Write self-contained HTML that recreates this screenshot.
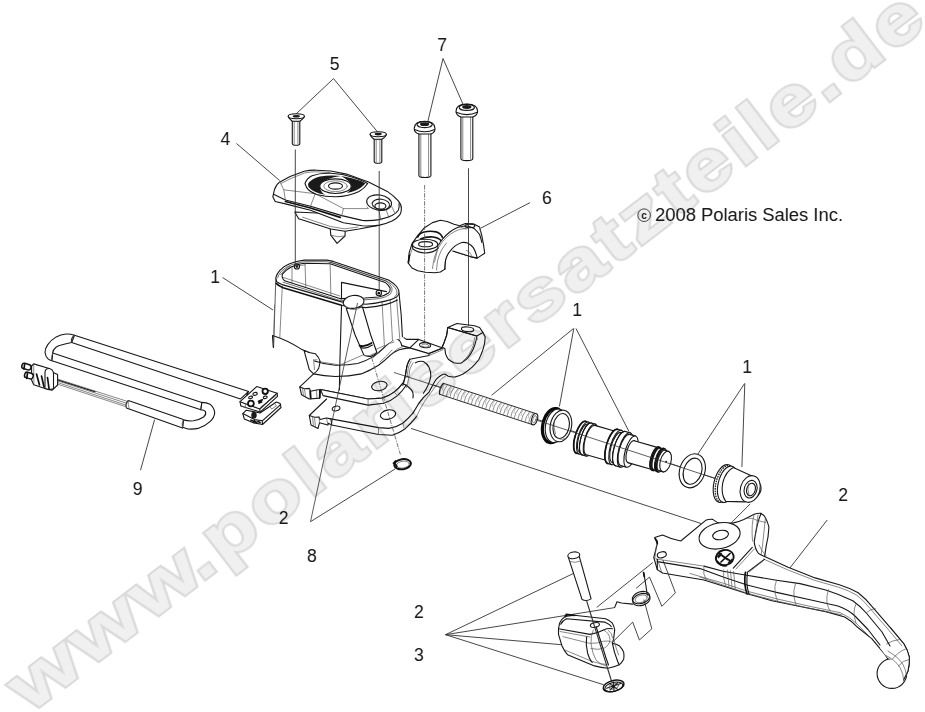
<!DOCTYPE html>
<html><head><meta charset="utf-8">
<style>
html,body{margin:0;padding:0;background:#fff;}
body{width:925px;height:712px;overflow:hidden;font-family:"Liberation Sans",sans-serif;}
svg{display:block;position:absolute;left:0;top:0;filter:grayscale(1);}
.wm{font-family:"Liberation Sans",sans-serif;font-weight:bold;font-size:92.6px;fill:#f0f0f0;stroke:#dadada;stroke-width:3.6;stroke-linejoin:miter;paint-order:stroke fill;vector-effect:non-scaling-stroke;}
.lb{font-family:"Liberation Sans",sans-serif;font-size:17.5px;fill:#1a1a1a;text-anchor:middle;}
.ld{stroke:#333;stroke-width:0.9;fill:none;}
.p{stroke:#161616;stroke-width:1.1;fill:#fff;stroke-linejoin:round;stroke-linecap:round;}
.n{stroke:#161616;stroke-width:1.1;fill:none;stroke-linejoin:round;stroke-linecap:round;}
.t{stroke:#555;stroke-width:0.7;fill:none;stroke-linejoin:round;stroke-linecap:round;}
.tf{stroke:#555;stroke-width:0.7;fill:#fff;stroke-linejoin:round;stroke-linecap:round;}
.k{stroke:#111;stroke-width:1.7;fill:none;stroke-linejoin:round;stroke-linecap:round;}
.b{fill:#1a1a1a;stroke:none;}
.dd{stroke:#555;stroke-width:0.8;fill:none;stroke-dasharray:4.5 1.2 1.2 1.2;}
</style></head>
<body>
<svg width="925" height="712" viewBox="0 0 925 712">
<rect width="925" height="712" fill="#fff"/>
<!-- leaders -->
<g id="leaders" class="ld">
<path d="M333.5,78.6 L295.8,114.2 M333.5,78.6 L377.7,132.1"/>
<path d="M443,58.5 L427.8,121.6 M443,58.5 L463.5,105.4"/>
<path d="M236.5,143.5 L279.7,180.6"/>
<path d="M530.1,202.6 L480.8,228.1"/>
<path d="M140.5,470.2 L154.6,419.6"/>
<path d="M310.5,521.7 L395,469"/>
<path d="M445.5,634.7 L574,573.2 M445.5,634.7 L614.7,607.6 M445.5,634.7 L561.4,644.7 M445.5,634.7 L603.8,684.8"/>
<path d="M827.2,520 L789.5,568.5"/>
<path d="M222.5,277.5 L273,310"/>
<path d="M573.5,328.5 L491.6,395.3 M573.8,328.5 L559.4,406.5 M576,328.5 L629,431.5"/>
<path d="M744.6,383.5 L697.9,454 M744.8,383.5 L741.9,467"/>
<path d="M394,372 L717,479"/>
<path d="M411,428.4 L701,523.5"/>
<path d="M750.2,503.9 L731.2,522.9"/>
</g>
<!-- harness -->
<g id="harness">
<!-- upper run -->
<path class="p" d="M74.5,335.2 L248.7,391.4 L240.5,398.9 L71.7,342.5 Z"/>
<!-- left U bend -->
<path class="p" d="M74.5,335.2 Q70.5,333.8 66,334 Q60.5,334.6 56.2,336.9 Q51,340 47.8,344.6 Q45,348.5 45,352.3 Q45.3,356 47.8,358.7 Q49.5,360.3 52,360.8 L52.7,353 Q53,349.5 56,347.2 Q58,345.8 60.4,345.3 Q66,343.5 71.7,342.5 Q70.5,338.5 74.5,335.2 Z"/>
<path class="t" d="M74.5,335.2 Q70.8,338.5 71.7,342.5"/>
<!-- middle run -->
<path class="p" d="M52.7,353 L201.8,402.4 L200.9,409.7 L52,360.8 Z"/>
<path class="t" d="M52.7,353 Q50.5,357 52,360.8"/>
<!-- right U bend -->
<path class="p" d="M201.8,402.4 Q206.5,402.6 210,404.2 Q214,407.5 214.7,412.5 Q214.5,417.5 210,421.7 Q205.5,425.8 199,428.1 Q193.5,429.5 188,429 L182.5,427.2 L183.4,419.9 Q188.5,421.3 193.5,420.8 Q199.5,419.8 203.6,417 Q206.5,414.5 205.5,411.6 Q204,409.8 200.9,409.7 Z"/>
<!-- sleeve (lower run) -->
<path class="p" d="M128.3,400.5 L183.4,419.5 L182.5,428.1 L126.4,407.9 Q124.8,404 128.3,400.5 Z"/>
<path class="t" d="M183.4,419.5 Q181,423.5 182.5,428.1 M128.3,400.5 Q127.8,404.5 129.2,408.6"/>
<!-- wires -->
<path class="t" d="M56.2,378.6 L127.4,401.4 M55.8,380.2 L126.8,403.3 M55.4,381.8 L126.3,405.2 M55,383.3 L126.2,406.8"/>
<path class="n" d="M56.2,379.4 L95,391.8"/>
<!-- connector -->
<path class="p" d="M33.7,363.9 L49.2,368.5 L52,372 L57.6,374.5 L57.6,385 L52,390.3 L45,388.5 L33.7,384.7 L31.6,380 L31.6,366 Z"/>
<path class="p" d="M45,372 Q45.5,368.2 49.2,368.5 Q53,369.5 53.5,373 L53.5,388.8 L49,389.6 L45,388.5 Z"/>
<path class="k" d="M36.5,374 L39.5,385 M41.5,376 L44,387 M47.5,377.5 L49,388.5"/>
<path class="t" d="M33.7,363.9 L33.9,384.5"/>
<rect x="21.8" y="363.8" width="9.2" height="5.4" rx="2.2" transform="rotate(17 26 366.5)" fill="#fff" stroke="#111" stroke-width="1.5"/>
<rect x="24.6" y="372.8" width="8.6" height="5.6" rx="2.2" transform="rotate(17 29 375.5)" fill="#fff" stroke="#111" stroke-width="1.5"/>
<path class="k" d="M24.6,364.4 L24,369 M27.4,373.6 L26.8,378.4"/>
</g>
<!-- switch -->
<g id="switch">
<path class="p" d="M242.8,413.6 L246.3,410.2 L260,413 L276.4,402 L280.2,403.6 L281,407.5 L262.5,424.5 L254,422.9 L244.3,419 Z"/>
<path class="n" d="M242.8,413.6 L254.6,419.6 L262.3,420.8 L280.6,404.6 M262.3,420.8 L262.5,424.5 M254.6,419.6 L254,422.9"/>
<path class="t" d="M269.4,405.9 L271.7,409 L276.4,405.9 L274.1,402.8"/>
<path class="p" d="M256.7,386.6 L277.1,393.2 L277.5,396.3 L260.1,412.1 L240.8,405.9 L240,401.7 Z"/>
<path class="n" d="M240,401.7 L259.8,409 L277.1,393.2 M259.8,409 L260.1,412.1"/>
<path class="t" style="stroke:#222" d="M260.9,407.1 L276.4,395.2"/>
<path class="t" d="M241,405.5 L245.5,407.8 L245.3,404"/>
<circle cx="265.2" cy="391.3" r="2.7" fill="#fff" stroke="#111" stroke-width="1.8"/>
<circle cx="250.9" cy="403.5" r="2.9" fill="#fff" stroke="#111" stroke-width="1.8"/>
<ellipse class="n" cx="255.1" cy="393.9" rx="2.2" ry="1.4" transform="rotate(-15 255.1 393.9)"/>
<ellipse class="n" cx="250.6" cy="397.4" rx="2" ry="1.2" transform="rotate(-15 250.6 397.4)"/>
<ellipse class="n" cx="265.2" cy="397.3" rx="2" ry="1.2" transform="rotate(-15 265.2 397.3)"/>
<path class="k" d="M258.6,401.4 L262.4,399.8 M259,403 L261.6,402"/>
<ellipse class="b" cx="254" cy="415.2" rx="2.7" ry="3.4"/>
<path class="k" d="M251,420.2 L256.5,422.4 M258,421.6 L260,422.6"/>
<rect class="b" x="246.6" y="392" width="1.7" height="3.2" transform="rotate(18 247.4 393.5)"/>
</g>
<!-- body -->
<g id="body">
<!-- right clamp half + lower plate -->
<path d="M309.3,415.5 L326.6,399 L400,385 L444.9,348.5 L447.8,327.5 L456.9,323.5 L474.5,325.8 L479.6,327.5 L483,332.6 L485.2,337.1 L483.5,347.9 L479,359.3 L472.2,367.2 L463.1,374 L455.2,376.9 L448.3,376.3 L444.9,374 L435.9,379.7 L429,392.2 L418.3,404.2 L416.6,416.3 L404.5,429.3 L392.3,435.3 L378.5,434.5 L331.8,425 L318,428.4 L311,425 Z" fill="#fff" stroke="none"/>
<path class="n" d="M326.6,399 L309.3,415.5 L311,425 L318,428.4 L319.5,422.8 L327.8,425 L328.3,423.2 L331.8,425 L378.5,434.5 L392.3,435.3 Q398.5,433.5 404.5,429.3 Q411,423.5 416.6,416.3"/>
<path class="n" d="M413.1,412.9 L418.3,404.2 L423.5,397.3 Q426.5,394.8 429,392.2 L432.5,385.4 Q434,382.5 435.9,379.7 Q437.8,377.5 440.4,375.7 Q442.5,374.3 444.9,374 L448.3,376.3 Q451.5,377.2 455.2,376.9 Q459,376 463.1,374 Q468,371 472.2,367.2 Q476,363.5 479,359.3 Q481.5,354 483.5,347.9 Q485,343 485.2,337.1 L483,332.6 L479.6,327.5 L474.5,325.8 L456.9,323.5 L447.8,327.5 L446.6,335.4 L443.8,343.4 L442.1,347.3"/>
<path class="n" d="M330.9,418.9 L378.5,427.6 L388.9,428.4 Q396,427.5 402.7,423.2 Q408.5,418.5 413.1,412.9"/>
<path class="t" d="M416.6,416.3 Q419,411.5 420.9,407.7 Q424.5,401 428.7,395.6 L439,381.7 Q441.5,378 445.5,376.2"/>
<path class="n" d="M309.3,415.5 L314.5,417.3 L319,417 L320,419.5 L326.5,418 L330.9,418.9 L331.8,425"/>
<path class="t" d="M314.5,417.3 L315.5,427 M319,417 L319.5,422.8 M326.5,418 L327.8,425 M312.5,416.6 L313.5,426.3"/>
<path class="t" d="M378.5,427.6 L378.5,434.5 M402.7,423.2 L404.5,429.3"/>
<ellipse class="n" cx="388" cy="414.6" rx="7.8" ry="4.6" transform="rotate(-12 388 414.6)"/>
<ellipse class="n" cx="336.1" cy="408.5" rx="3.9" ry="2.3" transform="rotate(-12 336.1 408.5)"/>
<!-- right half details -->
<path class="n" d="M447.8,327.5 L463.1,332 L476.7,336 L483,332.6"/>
<path class="p" d="M444.9,348.5 L445.5,353.6 Q446.5,356.8 448.3,359.3 Q451,361.5 454,362.7 Q457.5,363.5 460.8,363.2 Q464.5,361.2 467.6,358.1 Q471,354 473.3,349 Q475.2,344.5 476.2,340 L476.7,336 L463.1,332 L447.8,327.5 L446.6,335.4 L443.8,343.4 L442.1,347.3 Z" style="fill:none"/>
<path class="t" d="M463.1,361 Q466.3,358.2 468.8,354.7 Q471.5,350.5 473.3,345.6 Q474.3,341.5 474.5,337.7"/>
<ellipse class="n" cx="467.6" cy="329.3" rx="6.2" ry="2.3" transform="rotate(5 467.6 329.3)"/>
<path class="t" d="M476.7,336 L477.3,339.5 M483,332.6 L484.4,336"/>
<!-- upper plate + neck + bore -->
<path class="p" d="M299.8,386.9 L313.6,373.9 L309.3,369.6 L304.1,350.6 L314.5,351.4 L335,355 L388.9,342.8 L395,338.8 L402.4,336.6 L406.4,339.4 L418.8,339.4 L442.7,347.9 L429,353.6 L429,355.5 L409.8,359.3 Q408,362.5 406.9,366.1 L405.2,376.3 Q404.5,380 402.7,383.4 Q399,388.5 394.1,392.1 Q388.5,396.5 382,398.1 L368.1,399 L320.5,389.5 L319.7,398.1 L309.3,399 L301.5,394.7 Z"/>
<!-- upper plate thickness -->
<path class="p" d="M320.5,389.5 L368.1,399 L382,398.1 Q388.5,396.5 394.1,392.1 Q399,388.5 402.7,383.4 L406.2,385.2 Q402.5,391 397.5,395.6 Q391,401 383.7,403.3 L368.1,405.1 L323.1,395.6 Z"/>
<path class="t" d="M368.1,399 L368.1,405.1 M394.1,392.1 L397.5,395.6 M382,398.1 L383.7,403.3"/>
<!-- teeth of upper plate -->
<path class="n" d="M299.8,386.9 L304.5,388.8 L309.5,388.4 L310.5,391.2 L316.5,390 L320.5,389.5"/>
<path class="t" d="M304.5,388.8 L305.5,397 M309.5,388.4 L310.3,398.6 M316.5,390 L317,398.2 M302.5,387.9 L303.5,396"/>
<path class="k" d="M310.3,391.5 L310.8,398.5 M319.9,390 L319.7,397.8"/>
<!-- bore -->
<path class="n" d="M415.4,362.7 Q419.5,360.8 423.4,361.5 Q427,363.5 429,367.2 Q431,371.5 430.8,376.3 Q430,381 427.9,385.4 Q426,389.5 423.4,393.3"/>
<path class="n" d="M409.8,359.3 Q408,362.5 406.9,366.1 L405.2,376.3 Q404.3,381 402.9,385.4"/>
<path class="t" d="M413.2,362.7 Q411,366 409.8,369.5 L408.6,378.6 Q407.8,383.5 406.4,387.6 M411.2,361 Q409.2,364.5 408.3,368 L407,377.5"/>
<path class="n" d="M406.2,385.2 L410,388.5 Q414,391.5 413,398"/>
<!-- tab -->
<path class="n" d="M409.8,347.9 L418.8,339.4 M409.8,347.9 L429,353.6 L442.7,347.9 M401.8,345.6 L409.8,347.9"/>
<path class="t" d="M429,353.6 L429,355.5 M442.7,347.9 L443.2,349.6 L429,355.5"/>
<ellipse class="n" cx="425.1" cy="345.2" rx="5.6" ry="2.5" transform="rotate(6 425.1 345.2)"/>
<ellipse class="t" cx="425.3" cy="345.6" rx="3.6" ry="1.5" transform="rotate(6 425.3 345.6)"/>
<!-- neck curves -->
<path class="n" d="M314.5,361 Q325,364.5 335.3,365.3 Q347,365.5 357.7,363.5 Q366,361 373.3,356.6 Q379,352.5 383.7,348 L388.9,342.8 Q392,339.8 395,338.8 Q398,339 399.5,340.5 Q401.3,343 401.8,345.6"/>
<path class="n" d="M313.6,373.9 Q324,376 335.3,376.5 Q349,376.5 361.2,373.9 Q370.5,370.5 378.5,365.3 Q385,360.5 390.6,354.9 Q395,351 399.3,349.7 Q404,348.6 409.8,347.9"/>
<path class="t" d="M373.3,357.5 Q380,351.5 385.4,346.2 Q389,342.8 394,342 M392,353.5 Q397,348 403,346.5 M380,362 Q387,356 392,350"/>
<!-- foot -->
<path class="n" d="M314.5,351.4 Q318.5,353.5 319.7,357.5 Q320.5,363 318.8,367.9 Q317,371.5 314.5,373.1"/>
<path class="t" d="M313.6,360 L314.5,369.6 M313.6,360 L317,359.8"/>
<ellipse class="n" cx="379.4" cy="386" rx="7.8" ry="4.6" transform="rotate(-12 379.4 386)"/>
<!-- reservoir box -->
<path d="M275.8,277.6 L273.4,347.3 L272.5,334.3 L300.9,348.9 L315.5,353.8 L320.4,361.9 L339.8,365 L384.4,345.7 L392.5,340.8 L403.9,337.6 L399,293 L341.5,301.9 Z" fill="#fff" stroke="none"/>
<path class="t" style="stroke:#333;stroke-width:0.8" d="M275.8,279 L273.6,346"/>
<path class="n" d="M272.6,335.5 Q288,340.5 300.9,348.9 Q308,352.8 315.5,353.8 Q319,357 320.4,361.9"/>
<path class="n" d="M399,293 L401.2,315 L402.4,336.6"/>
<path class="t" d="M320.4,361.9 L339.8,365 L384.4,345.7"/>
<path class="k" style="stroke-width:1.3" d="M273.4,347.3 L272.6,336"/>
<path class="t" d="M274.6,305 L273.6,345"/>
<path class="t" d="M282.3,286 L279.8,337.6"/>
<path class="n" d="M341.5,306 L339.8,365 L339.4,390"/>
<path class="t" d="M390.1,297.5 L392.5,340.8 M396.6,299 L399.8,339 M382,300.5 L384.4,345.7"/>
<!-- rim -->
<path class="p" d="M275.8,277.6 Q277,273.5 279.8,270.3 Q284,266 289.6,263.8 Q296,261 304.2,260.1 L326.9,260.1 L333.3,261.4 L388.5,280 Q393.5,283 396.6,286.5 Q399.4,290 399,293 Q398.6,295.5 396.6,297 Q392,299.8 385.2,301.1 Q376,303.5 365.8,304.3 L341.5,301.9 L283.1,284.9 Q278.5,283.3 276.6,281.6 Z"/>
<path class="p" d="M282.3,274.3 Q285.5,270 291.2,267 Q297,264 304.2,263.3 L330.1,263.8 L385.2,282.4 Q388.6,285 390.1,288.1 Q390.6,291 388.5,293 Q384.5,295.8 378.7,297 L365,298 L339.8,298.6 L284.7,280.8 Q281.5,278 282.3,274.3 Z"/>
<path class="t" style="stroke:#333" d="M277.6,277.8 Q278.8,274 281.4,271.2 Q285.3,267.3 290.5,265.2 Q296.8,262.6 304.4,261.7 L326.6,261.7 L332.8,263 L387.4,281.4 Q392,284.2 394.9,287.4 Q397.4,290.6 397,293.2 Q396.6,295.3 394.9,296.6"/>
<path class="t" style="stroke:#333" d="M280.6,274.6 Q284,269.2 290.4,265.9 M283.2,282.2 L339.6,300.4 L365,299.8 L379.4,298.6 Q386,297.2 390.2,294.2 Q392.6,291.4 392,288 Q390.4,284.2 386.4,281.2 L330.4,262.2"/>
<path class="k" d="M276.2,283.3 Q278.5,285.8 283.1,287.8 L341.5,305.2"/>
<path class="n" d="M341.5,305.5 L365.8,307.6 Q377,306.8 386,304.4 Q393,302.6 397.4,300"/>
<!-- inside reservoir -->
<path class="t" d="M292,267.3 L292,283 M305,263.4 L305.8,287 M330.1,263.8 L330.9,295.6"/>
<path class="t" d="M283.5,277.5 L339.8,296 M296,265.6 L305,265"/>
<path class="n" d="M341.5,282.4 L386.5,291.6 M341.5,282.4 L341.5,299"/>
<circle class="n" cx="296.9" cy="266.4" r="2.6"/><circle class="b" cx="296.9" cy="266.6" r="1.3"/>
<circle class="n" cx="378.8" cy="293" r="2.7"/><circle class="b" cx="378.8" cy="293.2" r="1.4"/>
<!-- lug tube -->
<path class="p" d="M346.3,308.5 L355.1,335 L363.8,354.9 Q367,357 371,356.4 Q375,355.4 376.8,352.3 L370.7,335 L362.5,307 Z"/>
<path class="k" d="M359.5,345.6 Q365,347.4 371.6,343"/>
<path class="n" d="M360.3,347.6 Q366,349.4 372.4,345"/>
<path class="t" d="M364.7,355.8 Q370,356.6 375,353.2"/>
<ellipse class="p" cx="353.6" cy="301.9" rx="10.5" ry="6.4" transform="rotate(-8 353.6 301.9)"/>
<path class="t" d="M343.5,304.5 Q346,309.5 354.5,309.6 Q361.5,308.8 364,304"/>
</g>
<!-- spring -->
<g id="spring">
<path d="M439.7,394.3 L532.7,424.7 L536.3,413.7 L443.3,383.3 Z" fill="#fff" stroke="none"/>
<path class="n" style="stroke-width:0.9" d="M439.7,394.3 L532.7,424.7 M443.3,383.3 L536.3,413.7"/>
<path style="stroke:#555;stroke-width:0.65;fill:none" d="M444.0,383.5 Q439.8,388.2 439.0,394.1 M447.5,384.7 Q443.4,389.4 442.6,395.3 M451.1,385.8 Q446.9,390.6 446.2,396.4 M454.7,387.0 Q450.5,391.7 449.8,397.6 M458.3,388.2 Q454.1,392.9 453.3,398.8 M461.9,389.4 Q457.7,394.1 456.9,399.9 M465.4,390.5 Q461.3,395.3 460.5,401.1 M469.0,391.7 Q464.8,396.4 464.1,402.3 M472.6,392.9 Q468.4,397.6 467.6,403.4 M476.2,394.0 Q472.0,398.8 471.2,404.6 M479.7,395.2 Q475.6,399.9 474.8,405.8 M483.3,396.4 Q479.1,401.1 478.4,407.0 M486.9,397.5 Q482.7,402.3 482.0,408.1 M490.5,398.7 Q486.3,403.4 485.5,409.3 M494.0,399.9 Q489.9,404.6 489.1,410.5 M497.6,401.0 Q493.4,405.8 492.7,411.6 M501.2,402.2 Q497.0,406.9 496.3,412.8 M504.8,403.4 Q500.6,408.1 499.8,414.0 M508.4,404.6 Q504.2,409.3 503.4,415.1 M511.9,405.7 Q507.8,410.5 507.0,416.3 M515.5,406.9 Q511.3,411.6 510.6,417.5 M519.1,408.1 Q514.9,412.8 514.1,418.6 M522.7,409.2 Q518.5,414.0 517.7,419.8 M526.2,410.4 Q522.1,415.1 521.3,421.0 M529.8,411.6 Q525.6,416.3 524.9,422.2 M533.4,412.7 Q529.2,417.5 528.5,423.3 M537.0,413.9 Q532.8,418.6 532.0,424.5 "/>
<path style="stroke:#888;stroke-width:0.5;fill:none" d="M445.2,383.9 Q441.8,386.8 442.4,390.3 M452.4,386.2 Q449.0,389.1 449.5,392.6 M459.5,388.6 Q456.1,391.5 456.7,395.0 M466.7,390.9 Q463.3,393.8 463.8,397.3 M473.8,393.3 Q470.5,396.2 471.0,399.7 M481.0,395.6 Q477.6,398.5 478.1,402.0 M488.1,397.9 Q484.8,400.8 485.3,404.3 M495.3,400.3 Q491.9,403.2 492.5,406.7 M502.4,402.6 Q499.1,405.5 499.6,409.0 M509.6,405.0 Q506.2,407.9 506.8,411.4 M516.7,407.3 Q513.4,410.2 513.9,413.7 M523.9,409.6 Q520.5,412.5 521.1,416.0 M531.0,412.0 Q527.7,414.9 528.2,418.4 "/>
<ellipse class="p" cx="534.5" cy="419.2" rx="2.8" ry="5.8" transform="rotate(18.1 534.5 419.2)"/>
<ellipse class="t" cx="534.5" cy="419.2" rx="1.6" ry="3.8" transform="rotate(18.1 534.5 419.2)"/>
<path class="n" d="M443.3,383.3 Q438.8,387.9 439.7,394.3"/>
</g>
<!-- seal -->
<g id="seal">
<ellipse cx="553" cy="425.6" rx="10.2" ry="17.3" transform="rotate(12 553 425.6)" fill="#fff" stroke="#0a0a0a" stroke-width="3.2"/>
<ellipse class="p" cx="556" cy="425.8" rx="10.4" ry="17" transform="rotate(12 556 425.8)"/>
<ellipse class="p" cx="560.9" cy="425.9" rx="10.6" ry="16" transform="rotate(12 560.9 425.9)"/>
<ellipse class="n" cx="561.2" cy="426" rx="8" ry="12.6" transform="rotate(12 561.2 426)"/>
<path class="t" d="M556.5,437 Q560,441 565,438.5 M554.3,420 Q553,427 555.5,434"/>
</g>
<!-- piston -->
<g id="piston">
<ellipse class="p" cx="581.0" cy="437.3" rx="6.0" ry="16.6" transform="rotate(16.0 581.0 437.3)"/>
<path d="M585.6,421.3 L588.5,422.2 L579.3,454.1 L576.4,453.3 Z" fill="#fff" stroke="none"/>
<path class="n" d="M585.6,421.3 L588.5,422.2 M576.4,453.3 L579.3,454.1"/>
<ellipse class="p" cx="583.9" cy="438.1" rx="6.0" ry="16.6" transform="rotate(16.0 583.9 438.1)"/>
<ellipse class="p" cx="583.9" cy="438.1" rx="5.3" ry="14.6" transform="rotate(16.0 583.9 438.1)"/>
<path d="M587.9,424.1 L590.8,424.9 L582.7,453.0 L579.9,452.2 Z" fill="#fff" stroke="none"/>
<path class="n" d="M587.9,424.1 L590.8,424.9 M579.9,452.2 L582.7,453.0"/>
<ellipse class="p" cx="586.8" cy="439.0" rx="5.3" ry="14.6" transform="rotate(16.0 586.8 439.0)"/>
<ellipse class="p" cx="586.8" cy="439.0" rx="6.0" ry="16.6" transform="rotate(16.0 586.8 439.0)"/>
<path d="M591.3,423.0 L595.2,424.1 L586.0,456.0 L582.2,454.9 Z" fill="#fff" stroke="none"/>
<path class="n" d="M591.3,423.0 L595.2,424.1 M582.2,454.9 L586.0,456.0"/>
<ellipse class="p" cx="590.6" cy="440.1" rx="6.0" ry="16.6" transform="rotate(16.0 590.6 440.1)"/>
<ellipse class="p" cx="590.6" cy="440.1" rx="5.5" ry="15.2" transform="rotate(16.0 590.6 440.1)"/>
<path d="M594.8,425.4 L616.9,431.8 L608.5,461.0 L586.4,454.7 Z" fill="#fff" stroke="none"/>
<path class="n" d="M594.8,425.4 L616.9,431.8 M586.4,454.7 L608.5,461.0"/>
<ellipse class="p" cx="612.7" cy="446.4" rx="5.5" ry="15.2" transform="rotate(16.0 612.7 446.4)"/>
<ellipse class="p" cx="612.7" cy="446.4" rx="6.4" ry="17.8" transform="rotate(16.0 612.7 446.4)"/>
<path d="M617.6,429.3 L621.5,430.4 L611.7,464.6 L607.8,463.5 Z" fill="#fff" stroke="none"/>
<path class="n" d="M617.6,429.3 L621.5,430.4 M607.8,463.5 L611.7,464.6"/>
<ellipse class="p" cx="616.6" cy="447.5" rx="6.4" ry="17.8" transform="rotate(16.0 616.6 447.5)"/>
<ellipse class="p" cx="616.6" cy="447.5" rx="5.6" ry="15.6" transform="rotate(16.0 616.6 447.5)"/>
<path d="M620.9,432.5 L624.7,433.6 L616.1,463.6 L612.3,462.5 Z" fill="#fff" stroke="none"/>
<path class="n" d="M620.9,432.5 L624.7,433.6 M612.3,462.5 L616.1,463.6"/>
<ellipse class="p" cx="620.4" cy="448.6" rx="5.6" ry="15.6" transform="rotate(16.0 620.4 448.6)"/>
<ellipse class="p" cx="620.4" cy="448.6" rx="6.4" ry="17.8" transform="rotate(16.0 620.4 448.6)"/>
<path d="M625.3,431.5 L630.1,432.9 L620.3,467.1 L615.5,465.7 Z" fill="#fff" stroke="none"/>
<path class="n" d="M625.3,431.5 L630.1,432.9 M615.5,465.7 L620.3,467.1"/>
<ellipse class="p" cx="625.2" cy="450.0" rx="6.4" ry="17.8" transform="rotate(16.0 625.2 450.0)"/>
<ellipse class="p" cx="625.2" cy="450.0" rx="5.8" ry="16.2" transform="rotate(16.0 625.2 450.0)"/>
<path d="M629.7,434.4 L635.5,436.1 L626.5,467.2 L620.8,465.6 Z" fill="#fff" stroke="none"/>
<path class="n" d="M629.7,434.4 L635.5,436.1 M620.8,465.6 L626.5,467.2"/>
<ellipse class="p" cx="631.0" cy="451.6" rx="5.8" ry="16.2" transform="rotate(16.0 631.0 451.6)"/>
<ellipse class="p" cx="631.0" cy="451.6" rx="4.1" ry="11.4" transform="rotate(16.0 631.0 451.6)"/>
<path d="M634.1,440.7 L658.2,447.6 L651.9,469.5 L627.8,462.6 Z" fill="#fff" stroke="none"/>
<path class="n" d="M634.1,440.7 L658.2,447.6 M627.8,462.6 L651.9,469.5"/>
<ellipse class="p" cx="655.0" cy="458.5" rx="4.1" ry="11.4" transform="rotate(16.0 655.0 458.5)"/>
<ellipse class="p" cx="655.0" cy="458.5" rx="4.3" ry="12.0" transform="rotate(16.0 655.0 458.5)"/>
<path d="M658.3,447.0 L660.2,447.5 L653.6,470.6 L651.7,470.1 Z" fill="#fff" stroke="none"/>
<path class="n" d="M658.3,447.0 L660.2,447.5 M651.7,470.1 L653.6,470.6"/>
<ellipse class="p" cx="656.9" cy="459.1" rx="4.3" ry="12.0" transform="rotate(16.0 656.9 459.1)"/>
<ellipse class="p" cx="656.9" cy="459.1" rx="4.0" ry="11.2" transform="rotate(16.0 656.9 459.1)"/>
<path d="M660.0,448.3 L662.9,449.1 L656.7,470.7 L653.9,469.8 Z" fill="#fff" stroke="none"/>
<path class="n" d="M660.0,448.3 L662.9,449.1 M653.9,469.8 L656.7,470.7"/>
<ellipse class="p" cx="659.8" cy="459.9" rx="4.0" ry="11.2" transform="rotate(16.0 659.8 459.9)"/>
<ellipse class="p" cx="659.8" cy="459.9" rx="4.3" ry="12.0" transform="rotate(16.0 659.8 459.9)"/>
<path d="M663.1,448.4 L665.1,448.9 L658.4,472.0 L656.5,471.4 Z" fill="#fff" stroke="none"/>
<path class="n" d="M663.1,448.4 L665.1,448.9 M656.5,471.4 L658.4,472.0"/>
<ellipse class="p" cx="661.7" cy="460.5" rx="4.3" ry="12.0" transform="rotate(16.0 661.7 460.5)"/>
<ellipse class="p" cx="661.7" cy="460.5" rx="3.8" ry="10.6" transform="rotate(16.0 661.7 460.5)"/>
<path d="M664.7,450.3 L668.5,451.4 L662.7,471.7 L658.8,470.6 Z" fill="#fff" stroke="none"/>
<path class="n" d="M664.7,450.3 L668.5,451.4 M658.8,470.6 L662.7,471.7"/>
<ellipse class="p" cx="665.6" cy="461.6" rx="3.8" ry="10.6" transform="rotate(16.0 665.6 461.6)"/>
<ellipse class="p" cx="665.6" cy="461.6" rx="5.3" ry="10.6" transform="rotate(16.0 665.6 461.6)"/>
<circle class="b" cx="666.1" cy="461.7" r="1"/>
<path class="k" d="M576.4,453.3 L575.5,452.7 L574.7,451.7 L574.2,450.3 L573.8,448.5 L573.7,446.3 L573.7,443.9 L574.0,441.2 L574.5,438.4 L575.3,435.7 L576.1,432.9 L577.2,430.3 L578.3,427.9 L579.5,425.8 L580.8,424.0 L582.1,422.7 L583.3,421.7 L584.5,421.3 L585.6,421.3"/>
<path class="n" d="M582.2,454.9 L581.3,454.4 L580.5,453.4 L579.9,451.9 L579.6,450.1 L579.4,447.9 L579.5,445.5 L579.8,442.9 L580.3,440.1 L581.0,437.3 L581.9,434.6 L582.9,431.9 L584.1,429.5 L585.3,427.4 L586.6,425.7 L587.9,424.3 L589.1,423.4 L590.3,423.0 L591.3,423.0"/>
<path class="k" d="M607.8,463.5 L606.8,462.9 L606.0,461.9 L605.4,460.3 L605.0,458.4 L604.8,456.0 L604.9,453.4 L605.3,450.6 L605.8,447.6 L606.6,444.6 L607.5,441.7 L608.6,438.9 L609.8,436.3 L611.2,434.0 L612.5,432.2 L613.9,430.7 L615.2,429.7 L616.5,429.2 L617.6,429.3"/>
<path class="n" d="M615.5,465.7 L614.5,465.1 L613.7,464.1 L613.1,462.5 L612.7,460.6 L612.5,458.2 L612.6,455.6 L612.9,452.8 L613.5,449.8 L614.3,446.8 L615.2,443.9 L616.3,441.1 L617.5,438.5 L618.8,436.2 L620.2,434.4 L621.6,432.9 L622.9,431.9 L624.2,431.4 L625.3,431.5"/>
<path class="k" d="M652.7,470.3 L652.0,470.0 L651.4,469.2 L651.0,468.2 L650.8,466.9 L650.7,465.3 L650.7,463.5 L650.9,461.6 L651.3,459.6 L651.8,457.6 L652.5,455.6 L653.2,453.7 L654.0,452.0 L654.9,450.5 L655.8,449.2 L656.8,448.2 L657.7,447.6 L658.5,447.2 L659.3,447.3"/>
<path class="k" d="M657.5,471.7 L656.8,471.3 L656.3,470.6 L655.8,469.6 L655.6,468.2 L655.5,466.7 L655.5,464.9 L655.8,463.0 L656.1,461.0 L656.6,459.0 L657.3,457.0 L658.0,455.1 L658.8,453.4 L659.7,451.9 L660.6,450.6 L661.6,449.6 L662.5,448.9 L663.3,448.6 L664.1,448.6"/>
</g>
<!-- washer -->
<g id="washer">
<ellipse class="p" cx="692.3" cy="470.8" rx="12.6" ry="17.4" transform="rotate(18 692.3 470.8)"/>
<ellipse class="n" cx="692.6" cy="471.2" rx="9" ry="13.4" transform="rotate(18 692.6 471.2)"/>
</g>
<!-- bushing -->
<g id="bushing">
<ellipse class="p" cx="723.6" cy="483.5" rx="9.6" ry="19.3" transform="rotate(14 723.6 483.5)"/>
<ellipse cx="725.4" cy="483.9" rx="9.4" ry="19" transform="rotate(14 725.4 483.9)" fill="#fff" stroke="#222" stroke-width="1.3" stroke-dasharray="1.6 0.9"/>
<ellipse class="p" cx="727.4" cy="484.3" rx="9.2" ry="18.6" transform="rotate(14 727.4 484.3)"/>
<path class="p" d="M733.3,467.4 L752.4,476.3 Q762,482 761,490 Q759,499.5 744.7,501.9 L725.7,501.4 Q720.5,494 722.8,482.5 Q725.8,471 733.3,467.4 Z"/>
<ellipse class="p" cx="750.2" cy="489" rx="9.8" ry="13.6" transform="rotate(16 750.2 489)"/>
<ellipse class="n" cx="750.6" cy="489.2" rx="6.3" ry="9" transform="rotate(16 750.6 489.2)"/>
<ellipse class="n" cx="751" cy="489.5" rx="4.3" ry="6.4" transform="rotate(16 751 489.5)"/>
<path class="t" d="M748.5,483.5 Q747,489 749,495"/>
</g>
<!-- lever -->
<g id="lever">
<!-- main silhouette -->
<path class="p" d="M654.7,537.6 L662.5,535 Q672,539.5 680.7,541 L705.7,520.3 Q709,519 712.7,519.4 L717.9,522.9 Q726,524 733.4,522.9 Q739,521.5 743.8,519.4 L754.2,514.2 Q758,513 761.1,513.4 Q764,515 765.4,517.7 Q768,522.5 768.9,527.2 Q768.5,537 766.3,545.4 L764.6,556.6 L788.1,567.2 L815.1,577.9 L839.3,584.7 Q850,588 858.2,592.8 Q866,599 871.7,606.2 L890.5,627.8 L904,644 Q908,650.5 909.4,657.4 Q909.6,664.5 908,670.9 L902.6,681.7 L885.1,654.7 L871.7,638.6 L858.2,627.8 Q852,621 844.7,617 L825.8,611.6 L798.9,606.2 L772,600.8 L750.7,594.7 L704,580 L662.5,573 L657.3,569.6 L653.8,557.5 L657.3,543.6 Z"/>
<!-- ball -->
<circle class="p" cx="891.9" cy="673.6" r="14.8"/>
<path class="p" d="M885.1,654.7 L887.5,657.6 Q895,661 899.5,667 Q903.5,673.5 903.8,681 L908,670.9 Q909.6,664.5 909.4,657.4 Q908,650.5 904,644 L890.5,627.8 L880,648 Z" style="stroke:none"/>
<path class="n" d="M890.5,627.8 L904,644 Q908,650.5 909.4,657.4 Q909.6,664.5 908,670.9 L903.6,680"/>
<path class="t" d="M886,655.5 Q895,660 899.8,667 Q903.6,673.5 903.8,681 M888,651 Q898,656.5 902.5,663.5 Q906,670 906.5,675 M886.5,644 Q893,640 899.5,639.5 M892.5,659 Q898,652 905.5,649 M898.5,666 Q903,660 909,659.5"/>
<!-- arm top double edge -->
<path class="t" d="M763.5,559 L787.5,569.8 L814.5,580.3 L838.5,587.2 Q849,590.5 856.8,595.2 Q864,601 869.8,608.2 L888.5,629.8 L901.8,645.8"/>
<!-- arm upper body line -->
<path class="n" d="M704,566.1 L723,571.3 L743.8,574.8 L776.5,580.2 L800,583.6 L825.8,590 Q840,594.5 852.8,600.8 Q860,606 866.3,613 L882,632 L890,646"/>
<!-- arm lower lines -->
<path class="t" d="M690,573.5 L724.6,583.6 L747.1,591.2 L776.5,598.8 L811.1,606.6 L840,612.6 Q850,617 857,624 L871,638"/>
<path class="t" d="M700,577 L724.6,585.6 L747.1,593.2 L776.5,600.9 L811.1,608.6 L842,614.8"/>
<path class="t" d="M657.3,559.2 L704,566.1"/>
<path class="n" d="M657.3,561.6 L700,568.6 L724.6,577.5 L747.1,585 L776.5,592.4 L811.1,600 L838,606 Q848,609.5 855,616 L868,629.5 L880,645"/>
<!-- cross sections -->
<path class="t" d="M703.8,567.2 Q702.5,574 706.4,580.2 M723.7,569.8 Q722.5,578 725.5,585.4 M776.5,580.2 Q774,587 775,592.3 Q776,598 778.3,602.7 M795.5,583.6 Q793,591 794,596.5 Q795,602 796.5,606.1 M828.4,589.7 Q826,597 827,603 Q828,608 830.2,611.3 M866.3,613 Q870,609 875.6,608.8 M856,604 Q852,612 856,623"/>
<path class="k" d="M745.4,572.4 Q743.5,584 747.1,594"/>
<path class="n" d="M747.5,572.8 Q745.6,584 749.2,594.6"/>
<path class="t" d="M727.5,570.2 L729,586.6 M730.5,570.8 L732,587.6 M733.6,571.4 L735.2,588.6"/>
<!-- head-to-arm lines -->
<path class="n" d="M764.4,559.4 L747.1,572.4 M752.3,547.3 L733.3,568.1"/>
<path class="t" d="M762,561.6 L749.2,572 M754.2,549 L736,569"/>
<!-- right blade inner -->
<path class="n" d="M761.1,513.4 Q757,522 754.2,541.9 Q755,549 758.5,553.5 L764.6,556.6"/>
<path class="t" d="M754.2,514.2 Q751,524 752.5,541 M758,515 L755.5,535 M765.4,517.7 L762.8,543 L761.1,555 M759,545 Q761,550.5 766,555.5"/>
<path class="t" d="M747,518 Q753,517.5 757.5,520.5 M757.5,520.5 L765.8,522.5"/>
<!-- left edge -->
<path class="k" d="M655.2,538.6 Q657.6,541 657.3,543.6"/>
<path class="t" d="M656.2,546.8 L655,557 M653.8,557.5 L657.3,559.2 L662,573"/>
<path class="n" d="M657.3,559.2 L657.3,569.6"/>
<!-- washer -->
<ellipse class="p" cx="719.6" cy="535.8" rx="20.8" ry="12.8" transform="rotate(-12 719.6 535.8)"/>
<ellipse class="n" cx="720.6" cy="535" rx="8" ry="4.6" transform="rotate(-12 720.6 535)"/>
<ellipse class="n" cx="661.8" cy="554.8" rx="4.6" ry="2.9" transform="rotate(-15 661.8 554.8)"/>
<!-- adjuster screw -->
<ellipse cx="724.8" cy="557.6" rx="9" ry="7.6" transform="rotate(-15 724.8 557.6)" fill="#fff" stroke="#111" stroke-width="1.9"/>
<path class="k" d="M717.5,561.5 Q720,565.5 726,566 M719,553.5 L730.5,561 M721,562 L730,553.5 M722.5,556 L727.5,559.5"/>
<path class="b" d="M716.8,556 L721,552.2 L722.5,554.6 L718.4,558.4 Z M727.6,562.4 L732,558.6 L733,560.6 L729,564 Z"/>
</g>
<!-- pin -->
<g id="pin">
<path class="p" d="M568.2,556.9 L582.1,599.6 Q586.5,601.8 591.1,598.9 L579.2,556.2 Z"/>
<ellipse class="p" cx="573.8" cy="555.3" rx="6" ry="3.3" transform="rotate(-8 573.8 555.3)"/>
<path class="t" d="M569.8,561.5 Q575,563.6 580.8,561"/>
</g>
<!-- block -->
<g id="block">
<path class="p" d="M558.5,628.8 L559.6,623.2 Q561.5,618.5 565.2,616.4 L574.2,615.3 L605.7,618.7 Q610,620.5 612.4,623.2 Q614.3,626.5 614.7,629.9 L613.6,638.9 L612.4,643.4 Q616.5,644 619.2,645.7 Q622.3,648.8 623.7,652.4 Q624.3,656 623.7,659.2 Q622,662.5 619.2,664.8 Q614,667.3 608,668.2 Q601,667.6 594.5,665.9 L567.5,654.7 Q564,650.5 561.9,645.7 L558.5,634.4 Z"/>
<path class="k" d="M565.5,616.6 L566.2,614.4 L574.2,615.3"/>
<!-- top face -->
<path class="n" d="M560.7,624.3 Q562.6,620.4 566.4,618.7 L604.6,622.1 Q609,624 611.3,626.6"/>
<path class="n" d="M558.5,628.8 L590,634.4 Q597,633.4 603.5,629.9 Q608,628 612.4,628.8"/>
<path class="t" d="M563,636.7 L590,643.4 Q598,643.6 603.5,641.2 Q608.5,640.2 612.4,642.3"/>
<path class="t" d="M560,631.5 L590,637 M565,650 L592,661.4 Q600,664 607,664.6"/>
<!-- cylinder contours -->
<path class="n" d="M586.6,636.7 Q585.5,645 587.6,653 Q589.5,659.5 592.2,662.5"/>
<path class="t" d="M593.3,629.9 Q590.5,636 591,643.4 Q592,653 596,660 Q600.5,665 605.7,665.9"/>
<path class="n" d="M596.2,627 Q600,639 603.5,650 Q606,658.5 608.5,665"/>
<path class="t" d="M603.5,629.9 Q609.5,633 610,639.5 Q609.5,645 604.6,648 Q598,650.5 591,648.5"/>
<path class="n" d="M612.4,643.4 Q614,652 617,659.5 Q618,662.5 619.2,664.8"/>
<path class="t" d="M613.6,638.9 Q615.5,647 618.6,655 M608.5,630.5 Q612,633 612.6,638"/>
<ellipse class="n" cx="594.9" cy="625" rx="4.6" ry="2.3" transform="rotate(-10 594.9 625)"/>
</g>
<!-- clip -->
<g id="clip">
<path class="ld" d="M586.5,600.5 L611.8,682" style="stroke-width:1.1"/>
<ellipse cx="613.6" cy="685.9" rx="10.6" ry="5.4" transform="rotate(-14 613.6 685.9)" fill="#fff" stroke="#111" stroke-width="1.5"/>
<ellipse class="n" cx="613.8" cy="686.9" rx="9.2" ry="4.5" transform="rotate(-14 613.8 686.9)"/>
<path class="n" d="M606.5,688.2 L620.8,683.6 M609.8,683.6 L617.6,689.4 M610,690 L617.8,682.6 M613.4,682 L614,690.8"/>
<ellipse class="t" cx="613.7" cy="686.4" rx="5" ry="2.6" transform="rotate(-14 613.7 686.4)"/>
<ellipse class="b" cx="613.7" cy="686.2" rx="1.6" ry="1"/>
</g>
<!-- tspring -->
<g id="tspring">
<!-- phantom lever outline -->
<path class="ld" d="M612.4,642.3 L632.7,622.1 L639.4,640 L651.8,628.8 L643.9,599.6 M636.1,588.3 L649.5,577.1 L661.9,606.3 L675.4,592.8 L663,560.2"/>
<path class="ld" d="M596.7,607.4 L652.9,562.5"/>
<!-- coil -->
<ellipse class="n" cx="641.4" cy="599.6" rx="9" ry="5.8" transform="rotate(-18 641.4 599.6)"/>
<ellipse class="n" cx="641" cy="597.6" rx="9" ry="5.8" transform="rotate(-18 641 597.6)"/>
<ellipse class="t" cx="641.2" cy="598.8" rx="6.2" ry="3.6" transform="rotate(-18 641.2 598.8)"/>
<path class="n" d="M632.7,604.1 L621.4,603 L617,601.8 L614.7,607.4"/>
<path class="n" d="M647.3,595.1 L645.8,585 L643.9,573.7"/>
<path class="k" d="M644.3,576.5 L643.6,572.6"/>
</g>
<!-- snap -->
<g id="snap">
<ellipse cx="402.6" cy="464.2" rx="8.4" ry="5" transform="rotate(-8 402.6 464.2)" fill="none" stroke="#111" stroke-width="2"/>
<ellipse class="t" cx="403" cy="464.6" rx="6.4" ry="3.4" transform="rotate(-8 403 464.6)"/>
<path class="k" d="M394.2,462.6 L396.8,466.2 M395.5,461 L393.5,463.4"/>
</g>
<!-- cover -->
<g id="cover">
<!-- plug + gasket -->
<path class="p" d="M330.1,227 L330.8,235.2 L337.1,243.3 L345,236 L345.3,229 Z"/>
<path class="t" d="M330.8,235.2 Q338,238 345,236"/>
<path class="p" d="M294.8,212 L298.7,218.8 L330.8,229 L345,231.3 L359,229 L379.4,225.1 L360,215 Z"/>
<path class="t" d="M302.6,217.2 L330.8,226.6 L345,228.9 L358,227"/>
<!-- outer body -->
<path class="p" d="M272.8,196.8 L274.4,189.8 Q276,184.5 279.9,181.9 L290.1,176.5 L304.2,171.3 Q310,170 316.7,170.2 L330.8,171 L346.5,174.1 L368.5,181.9 L387.3,191.4 Q394,196 398.3,200.8 Q401.6,205 401.4,208.6 Q401.5,212 399.8,214.9 Q397,218.5 392,221.1 Q386,224 379.4,225.1 Q371,226.3 362.2,225.8 L343.4,222.7 L310.5,210.2 L285.4,203.9 L275.2,201.5 Z"/>
<!-- top face lower edge -->
<path class="n" d="M273.6,194.2 L285.4,200 L310.5,206.2 L341.8,215.6 L362.2,220.4 Q371,221 379.4,219.6 Q387,218 392,215.6 Q396.5,213 398.3,210.2 Q399.6,207 399,203.9"/>
<path class="k" d="M285.4,201.5 L310.5,208 L340.3,217.4"/>
<!-- creases -->
<path class="t" d="M283.8,189.8 L285.4,200 M315.2,193.7 L310.5,206.2 M343.4,208.6 L341.8,215.6"/>
<path class="t" d="M279.9,181.9 L283.8,189.8 L315.2,193.7 L343.4,208.6 L368.5,208.6 L366.9,207"/>
<path class="t" d="M281.5,183.2 L292,178 L304.5,173 Q311,171.6 317,171.8 L330,172.6"/>
<!-- emblem -->
<path class="p" d="M305,183.5 Q306.5,178.5 312,175.7 Q320,172.8 330.8,173.3 Q343,174 352.8,177.2 Q362,180.2 367.7,183.5 Q364.5,188.5 359,191.4 Q349,196.2 335.5,196.8 Q325,196.8 316.7,194.5 Q309,191.5 306.5,187.4 Z"/>
<path class="b" d="M308,184 Q311,178.5 320,176.4 Q330,175 341,176 Q325,178 320.5,184.5 Q318.5,190.5 325,194.8 Q313,192.5 308.5,187 Z"/>
<path class="b" d="M365.5,183.6 Q360,180 352,178.2 Q346,177 341,176 Q350,180.5 351.2,186 Q351.5,189.5 347,193 Q356,191 361,187.5 Z"/>
<ellipse class="p" cx="335.5" cy="186.2" rx="15.7" ry="7.3"/>
<ellipse class="t" cx="335.5" cy="186.2" rx="11.8" ry="5.4"/>
<ellipse class="n" cx="335.5" cy="186" rx="7" ry="3.1"/>
<!-- hole -->
<ellipse class="p" cx="379.1" cy="202.6" rx="12.5" ry="7.6" transform="rotate(8 379.1 202.6)"/>
<ellipse class="n" cx="381" cy="204.4" rx="8.8" ry="5.2" transform="rotate(8 381 204.4)"/>
<ellipse class="n" cx="380.4" cy="206" rx="5.5" ry="3.1"/>
<path class="t" d="M372,203 L373,207 M389.6,204 L388.6,208"/>
<path class="t" d="M379,211 L381,220 M386,209.5 L389,218 M391.5,206 L395,213.5"/>
</g>
<!-- screws -->
<g id="screws">
<!-- left screw -->
<path class="p" d="M292.3,121 L292.3,143.5 Q292.3,145.3 296,145.3 Q299.8,145.3 299.8,143.5 L299.8,121 Z"/>
<path class="p" d="M288.2,116.3 Q288.2,118 292.3,121.3 L299.8,121.3 Q304.4,118 304.4,116.3 Z"/>
<ellipse class="p" cx="296.3" cy="116.3" rx="8.1" ry="2.5"/>
<ellipse class="b" cx="296.3" cy="116.2" rx="3.6" ry="1.3"/>
<path class="t" d="M294.2,122 L294.2,144 M297.9,122 L297.9,144"/>
<!-- right screw -->
<path class="p" d="M374.2,139 L374.2,161.5 Q374.2,163.3 378,163.3 Q381.8,163.3 381.8,161.5 L381.8,139 Z"/>
<path class="p" d="M370.1,134.2 Q370.1,136 374.2,139.3 L381.8,139.3 Q386.4,136 386.4,134.2 Z"/>
<ellipse class="p" cx="378.2" cy="134.2" rx="8.1" ry="2.5"/>
<ellipse class="b" cx="378.2" cy="134.1" rx="3.6" ry="1.3"/>
<path class="t" d="M376.2,140 L376.2,162 M379.9,140 L379.9,162"/>
</g>
<!-- bolts -->
<g id="bolts">
<!-- left bolt -->
<path class="p" d="M418.9,133 L418.9,175.5 Q418.9,177.5 424.9,177.5 Q430.9,177.5 430.9,175.5 L430.9,133 Z"/>
<path class="t" d="M420.8,134 L420.8,176 M428.6,134 L428.6,176"/>
<path class="p" d="M414.2,128.5 Q414.2,121.3 424.6,121.3 Q435,121.3 435,128.5 Q435,132.5 430.9,134 L418.9,134 Q414.2,132.5 414.2,128.5 Z"/>
<path class="n" d="M414.5,129.5 Q424.6,134 434.7,129.5"/>
<ellipse class="b" cx="424.6" cy="124.2" rx="4.6" ry="1.9"/>
<ellipse class="n" cx="424.6" cy="124.6" rx="7.6" ry="3"/>
<!-- right bolt -->
<path class="p" d="M460.9,116 L460.9,158.5 Q460.9,160.6 466.8,160.6 Q472.8,160.6 472.8,158.5 L472.8,116 Z"/>
<path class="t" d="M462.8,117 L462.8,159 M470.6,117 L470.6,159"/>
<path class="p" d="M456,111.3 Q456,104 466.8,104 Q477.6,104 477.6,111.3 Q477.6,115.3 472.8,117 L460.9,117 Q456,115.3 456,111.3 Z"/>
<path class="n" d="M456.3,112.3 Q466.8,117 477.3,112.3"/>
<ellipse class="b" cx="466.8" cy="107" rx="4.6" ry="1.9"/>
<ellipse class="n" cx="466.8" cy="107.4" rx="7.6" ry="3"/>
</g>
<!-- clamp -->
<g id="clamp">
<!-- back inner arch -->
<path class="p" d="M452.9,251 L470.5,256.6 L477.3,258.1 L484.7,253.2 L483.5,244.7 L481.8,235.6 L479.6,227.1 L473.3,223.7 L465.4,223.5 L459.7,225.8 L454,224.3 L447.2,221.5 L440.4,220.3 L432.5,222.6 L424.5,227.7 L417.7,235.6 L412,243.6 L409.2,252.7 L408.1,262.9 L412,268 L417.7,270.8 L425.6,272.2 L434.7,272.8 L440.4,272 L444.9,269.1 L445.5,260.6 L448.9,252.7 Z"/>
<!-- inner arch opening -->
<path class="p" d="M444.9,269.1 L445.5,260.6 Q446.5,256 448.9,252.7 Q451.5,248.8 455.2,245.9 Q458.5,243.5 462,242.5 Q465,242.2 467.6,243 Q471,244.8 473.3,247.6 Q475.2,250.8 476.2,254.4 L477.3,258.1 L470.5,256.6 L452.9,251"/>
<path class="t" d="M466.5,250.5 Q470.5,251.5 471.8,256.8"/>
<!-- arch front band lines -->
<path class="n" d="M438.7,244.7 Q440.5,241.5 442.7,239 Q446,235 449.5,232.2 Q454,229 458.6,227.1 Q463,226 467.6,226 Q471.5,227 474.5,228.8 Q477.5,231.5 479.6,234.5 Q481,238.5 481.8,242.5"/>
<path class="t" d="M432.5,268.6 L433.6,260.6 Q435,255 437,250.4 Q439.5,245.5 442.7,241.3 Q446.5,237 450.6,233.9 Q455,231 459.7,229.4 Q464,228.3 468,228.6"/>
<path class="t" d="M436.5,270 L437.5,261 Q439,255.5 441,251 Q443.5,246.5 446.5,243"/>
<!-- right boss -->
<ellipse class="n" cx="469.9" cy="226" rx="5" ry="1.7"/>
<path class="t" d="M459.7,225.8 Q462,228.6 466,229 M479.6,227.1 L480.3,230.8"/>
<!-- left boss -->
<path class="k" d="M417.8,237 Q419,233.5 424,232 Q430,230.6 436,231.8 Q441,233.4 442.5,237.5 M420.5,239 Q426,236.5 433,237 Q438.5,237.8 441,240.5"/>
<ellipse class="p" cx="425.1" cy="244.4" rx="12.7" ry="5.1"/>
<ellipse class="n" cx="425.6" cy="244.2" rx="7" ry="2.6"/>
<path class="n" d="M412.4,244.8 L412.4,248.5 Q418,253 425.1,253 Q433,253 437.8,248.5 L437.8,244.8"/>
<path class="t" d="M412.4,248.5 L409.8,256 M437.8,248.5 L434.5,262"/>
<path class="k" d="M409.5,255 L408.6,262"/>
</g>
<!-- axes -->
<g id="axes">
<path class="ld" d="M295.3,149.5 L295.3,263.5 M379.2,171 L379.2,291"/>
<path class="dd" d="M424.6,185 L424.6,341"/>
<path class="ld" d="M468.5,168.3 L468.5,326"/>
<path class="ld" style="stroke-width:0.8" d="M310.5,521.7 L357.5,303"/>
<path class="dd" d="M371.6,357.5 L400.4,454.5"/>
<path class="ld" style="stroke-width:0.8" d="M536.5,420.1 L715.5,478.6"/>
<path class="ld" style="stroke-width:0.8" d="M394,372.5 L441,387.6"/>
</g>
<!-- labels -->
<g id="labels" class="lb">
<text x="334.5" y="70.3">5</text>
<text x="442.1" y="50.5">7</text>
<text x="225.3" y="145.2">4</text>
<text x="546.8" y="204.1">6</text>
<text x="215" y="282.5">1</text>
<text x="577" y="315.5">1</text>
<text x="747" y="372.5">1</text>
<text x="843" y="500.5">2</text>
<text x="137.7" y="494.8">9</text>
<text x="283.5" y="523.6">2</text>
<text x="311.8" y="561.7">8</text>
<text x="418.8" y="618.1">2</text>
<text x="418.8" y="661.3">3</text>
</g>
<!-- copy -->
<g id="copy">
<circle cx="644.1" cy="215.2" r="6.3" fill="none" stroke="#333" stroke-width="0.9"/>
<text x="644.1" y="218.6" font-size="10" font-weight="bold" text-anchor="middle" fill="#222" font-family="Liberation Sans, sans-serif">c</text>
<text x="655" y="220.8" font-size="17.5" fill="#1a1a1a" font-family="Liberation Sans, sans-serif" textLength="188" lengthAdjust="spacingAndGlyphs">2008 Polaris Sales Inc.</text>
</g>
<!-- wm -->
<g id="wm" style="mix-blend-mode:multiply">
<text class="wm" style="font-size:91.5px;letter-spacing:4.05px;stroke-width:4.4" transform="translate(29.9,713.9) rotate(-37.45) scale(1,0.762)">www</text>
<text class="wm" style="font-size:84.0px;letter-spacing:4.05px;stroke-width:4.4" transform="translate(201.3,582.6) rotate(-37.45) scale(1,0.830)">.polarisersatzteile.de</text>
</g>
</svg>
</body></html>
